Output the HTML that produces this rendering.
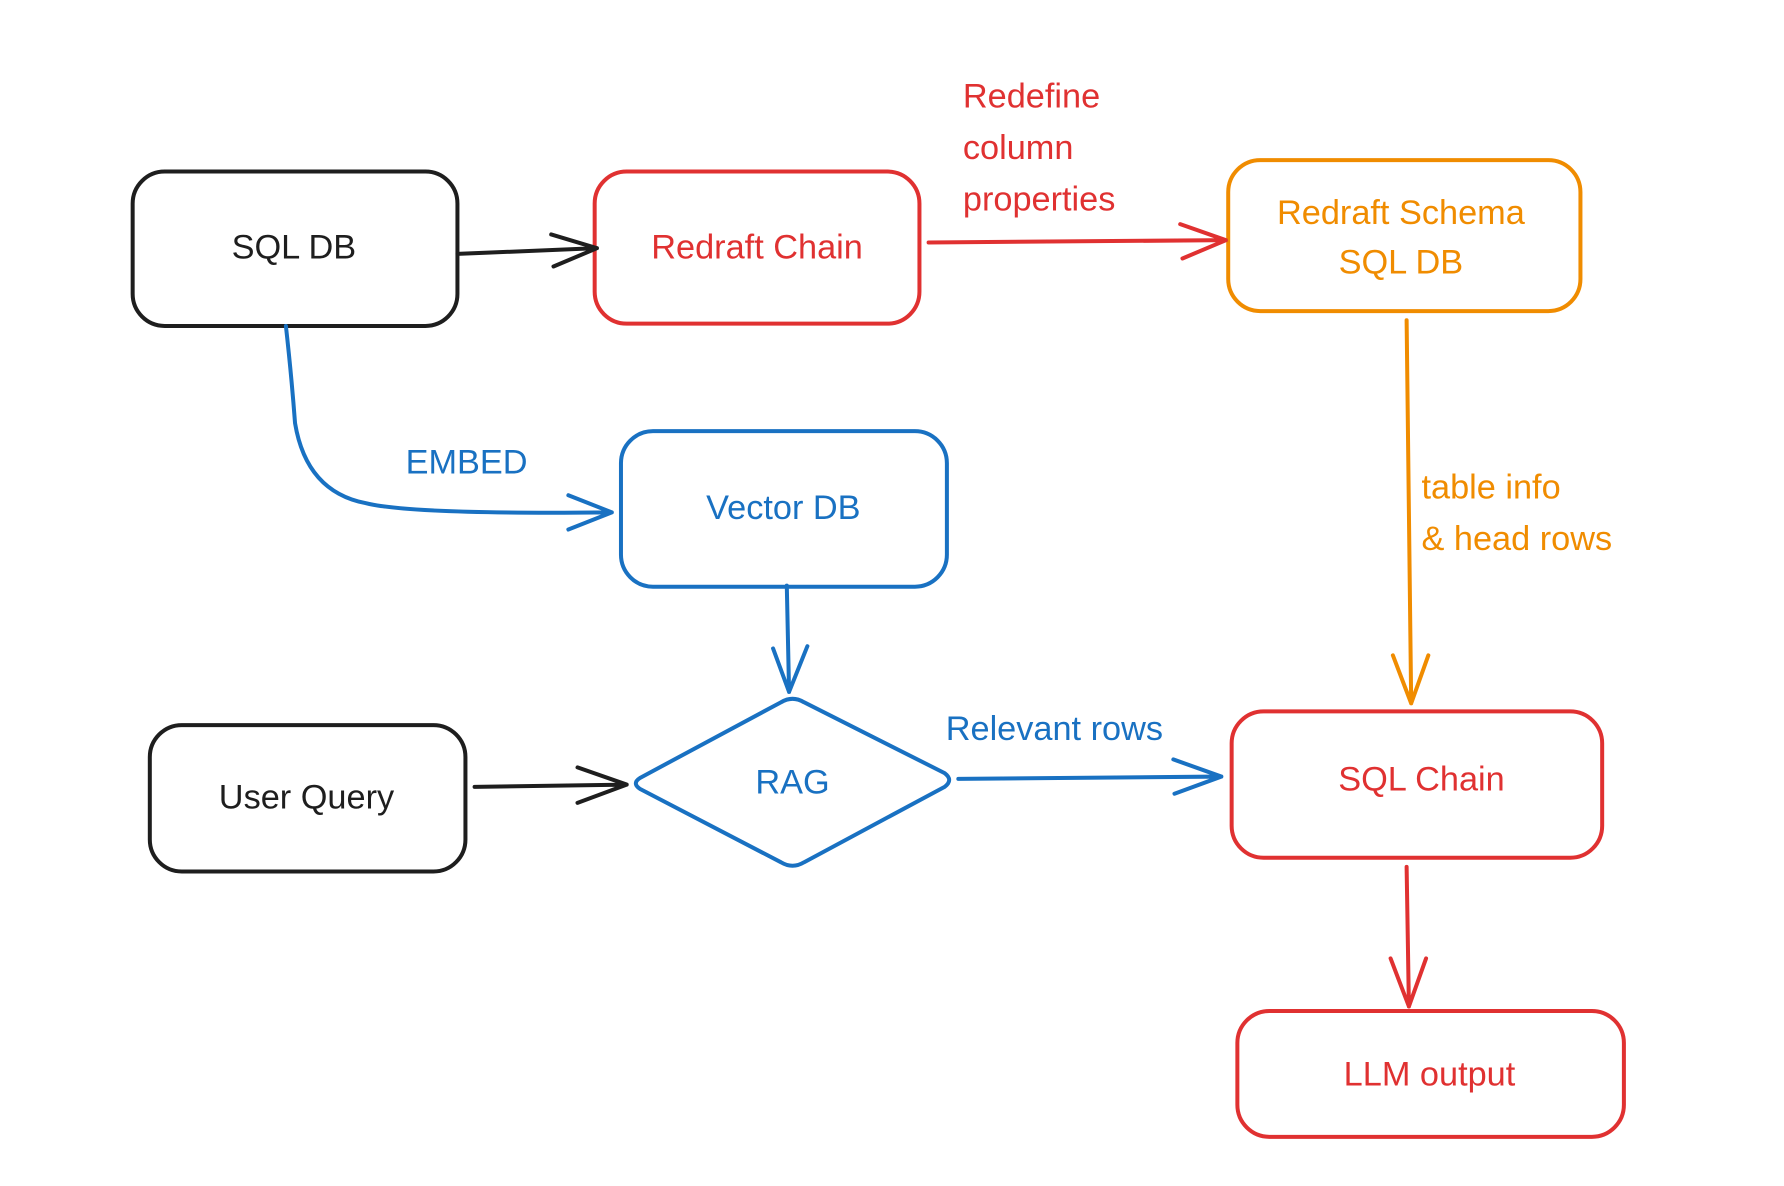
<!DOCTYPE html>
<html><head><meta charset="utf-8"><style>
html,body{margin:0;padding:0;background:#fff;}
svg{display:block}
text{font-family:"Liberation Sans",sans-serif;font-size:30px;}
</style></head><body>
<svg width="1784" height="1186" viewBox="0 0 1560 1037" preserveAspectRatio="none" xmlns="http://www.w3.org/2000/svg">
<g fill="none" stroke-width="3.5" stroke-linecap="round" stroke-linejoin="round">
<!-- boxes -->
<rect x="116" y="150" width="284" height="135" rx="28" stroke="#1e1e1e"/>
<rect x="520" y="150" width="284" height="133" rx="28" stroke="#e03131"/>
<rect x="1074" y="140" width="308" height="132" rx="28" stroke="#f08c00"/>
<rect x="543" y="377" width="285" height="136" rx="28" stroke="#1971c2"/>
<rect x="131" y="634" width="276" height="128" rx="28" stroke="#1e1e1e"/>
<rect x="1077" y="622" width="324" height="128" rx="28" stroke="#e03131"/>
<rect x="1082" y="884" width="338" height="110" rx="28" stroke="#e03131"/>
<path d="M560 680 L683 614 Q693 608 703 614 L826 676 Q834 682 826 688 L703 754 Q693 760 683 754 L560 690 Q552 685 560 680 Z" stroke="#1971c2"/>
<!-- arrows -->
<path d="M400 222 L522 217 M482 205 L522 217 L484 233" stroke="#1e1e1e"/>
<path d="M812 212 L1072 210 M1032 196 L1072 210 L1034 226" stroke="#e03131"/>
<path d="M250 285 Q255 330 258 370 Q268 430 320 440 Q360 450 535 448 M497 433 L535 448 L497 463" stroke="#1971c2"/>
<path d="M688 512 L690 605 M676 567 L690 605 L706 565" stroke="#1971c2"/>
<path d="M415 688 L548 686 M505 671 L548 686 L505 702" stroke="#1e1e1e"/>
<path d="M838 681 L1068 679 M1026 664 L1068 679 L1027 694" stroke="#1971c2"/>
<path d="M1230 280 L1234 615 M1218 573 L1234 615 L1249 573" stroke="#f08c00"/>
<path d="M1230 758 L1232 880 M1216 838 L1232 880 L1247 838" stroke="#e03131"/>
</g>
<g text-anchor="middle">
<text x="257" y="226" fill="#1e1e1e">SQL DB</text>
<text x="662" y="226" fill="#e03131">Redraft Chain</text>
<text x="1225" y="196" fill="#f08c00">Redraft Schema</text>
<text x="1225" y="239" fill="#f08c00">SQL DB</text>
<text x="685" y="454" fill="#1971c2">Vector DB</text>
<text x="693" y="694" fill="#1971c2">RAG</text>
<text x="268" y="707" fill="#1e1e1e">User Query</text>
<text x="1243" y="691" fill="#e03131">SQL Chain</text>
<text x="1250" y="949" fill="#e03131">LLM output</text>
<text x="408" y="414" fill="#1971c2">EMBED</text>
<text x="922" y="647" fill="#1971c2">Relevant rows</text>
</g>
<g>
<text x="842" y="94" fill="#e03131">Redefine</text>
<text x="842" y="139" fill="#e03131">column</text>
<text x="842" y="184" fill="#e03131">properties</text>
<text x="1243" y="436" fill="#f08c00">table info</text>
<text x="1243" y="481" fill="#f08c00">&amp; head rows</text>
</g>
</svg>
</body></html>
